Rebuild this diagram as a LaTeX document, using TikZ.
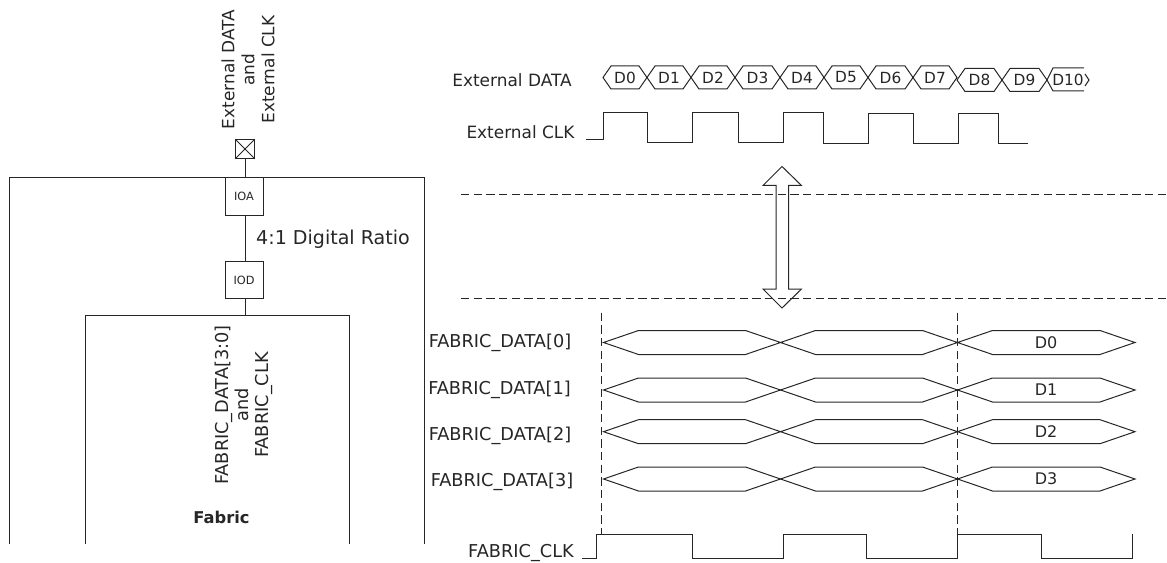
\documentclass[tikz,border=0pt]{standalone}
\usepackage{fontspec}
\setmainfont{DejaVu Sans}
\usetikzlibrary{positioning}
\begin{document}
\begin{tikzpicture}
[x=.75pt,y=-.75pt,line width=.75pt,color=black!85,
every node/.style={inner sep=0pt,font=\fontsize{12.7}{15}\selectfont},
ioblock/.style={draw,minimum width=28.5pt,minimum height=28pt,font=\fontsize{8.5}{10}\selectfont},
sidetext/.style={rotate=90,align=center},
fabname/.style={font=\fontsize{13.3}{15}\selectfont},
busname/.style={font=\fontsize{11.5}{13}\selectfont},
guide/.style={dash pattern=on 6.3pt off 3.2pt}]
\useasboundingbox (0,0) rectangle (1167,563);
% left part
\draw (9.5,544) -- (9.5,177.5) -- (424.5,177.5) -- (424.5,544);
\draw (85,544) |- (349,315) -- (349,544);
\node[draw,minimum width=14pt,minimum height=14pt] (pad) at (245,149) {};
\draw (pad.north west) -- (pad.south east);
\draw (pad.north east) -- (pad.south west);
\node[ioblock] (ioa) at (244,196.5) {IOA};
\node[ioblock] (iod) at (244,280) {IOD};
\coordinate (fab) at (245,315);
\draw (pad) -- (pad|-ioa.north);
\draw (ioa.south-|pad) -- (iod.north-|pad);
\draw (iod.south-|pad) -- (fab);
\node[sidetext] (ext) at (248,69.5) {External DATA\\and\\External CLK};
\node[sidetext,fabname] (fabsig) at (244,405) {FABRIC\_DATA[3:0]\\and\\FABRIC\_CLK};
\node[font=\fontsize{14.3}{17}\selectfont] (ratio) at (333,239) {4:1 Digital Ratio};
\node[font=\bfseries\fontsize{12.2}{15}\selectfont] (fabric) at (221.5,517) {Fabric};
% external signals
\node (extdata) at (512,80) {External DATA};
\node (extclk) at (520.5,132) {External CLK};
\foreach \a/\b/\y/\name in {603/647/77.5/D0,647/691/77.5/D1,691/735/77.5/D2,735/780/77.5/D3,780/824/77.5/D4,824/868/77.5/D5,868/913/77.5/D6,913/957/77.5/D7,957/1002/80/D8,1002/1047/80/D9}
{
\draw (\a,\y) -- (\a+8,\y-11.5) -- (\b-8,\y-11.5) -- (\b,\y) -- (\b-8,\y+11.5) -- (\a+8,\y+11.5) -- cycle;
\node[busname] (\name) at ({(\a+\b)/2},\y) {\name};
}
\draw (1047,80) -- (1053,68) -- (1084,68);
\draw (1047,80) -- (1053,91) -- (1084,91);
\draw (1085,74) -- (1089,80) -- (1085,86);
\node[busname] (D10) at (1068,80) {D10};
\draw (586,140) -- (603,140) -- (603,112.5) -- (647,112.5) -- (647,142.5) -- (692,142.5) -- (692,112.5) -- (738,112.5) -- (738,142.5) -- (783,142.5) -- (783,112.5) -- (823,112.5) -- (823,143.5) -- (868,143.5) -- (868,113.5) -- (913,113.5) -- (913,143.5) -- (958,143.5) -- (958,113.5) -- (998,113.5) -- (998,143.5) -- (1028,143.5);
% stage lines and arrow
\draw[guide] (461,195) -- (1167,195);
\draw[guide] (461,298.5) -- (1167,298.5);
\draw (782,166.5) -- (801.5,185.5) -- (788.5,185.5) -- (788.5,289) -- (801.5,289) -- (782,308) -- (763,289) -- (776,289) -- (776,185.5) -- (763,185.5) -- cycle;
\draw[guide] (601.5,312.5) -- (601.5,534);
\draw[guide] (957.5,312.5) -- (957.5,534);
% fabric signals
\foreach \y/\ly/\lx/\i in {342.5/342.5/500/0,390/389.5/499.5/1,431.7/436/500/2,479/482/502/3}
{
\node[fabname] (data\i) at (\lx,\ly) {FABRIC\_DATA[\i]};
\foreach \a/\b in {603.5/780.5,780.5/957.5,957.5/1135}
\draw (\a,\y) -- (\a+35,\y-12) -- (\b-35,\y-12) -- (\b,\y) -- (\b-35,\y+12) -- (\a+35,\y+12) -- cycle;
\node[font=\fontsize{12}{14}\selectfont] (val\i) at (1046,\y) {D\i};
}
\node[fabname] (fabclk) at (521,553) {FABRIC\_CLK};
\draw (582,558) -- (596,558) -- (596,534) -- (692,534) -- (692,558) -- (783,558) -- (783,534) -- (866,534) -- (866,558) -- (957.5,558) -- (957.5,534) -- (1041,534) -- (1041,558) -- (1132,558) -- (1132,534);
\end{tikzpicture}
\end{document}
